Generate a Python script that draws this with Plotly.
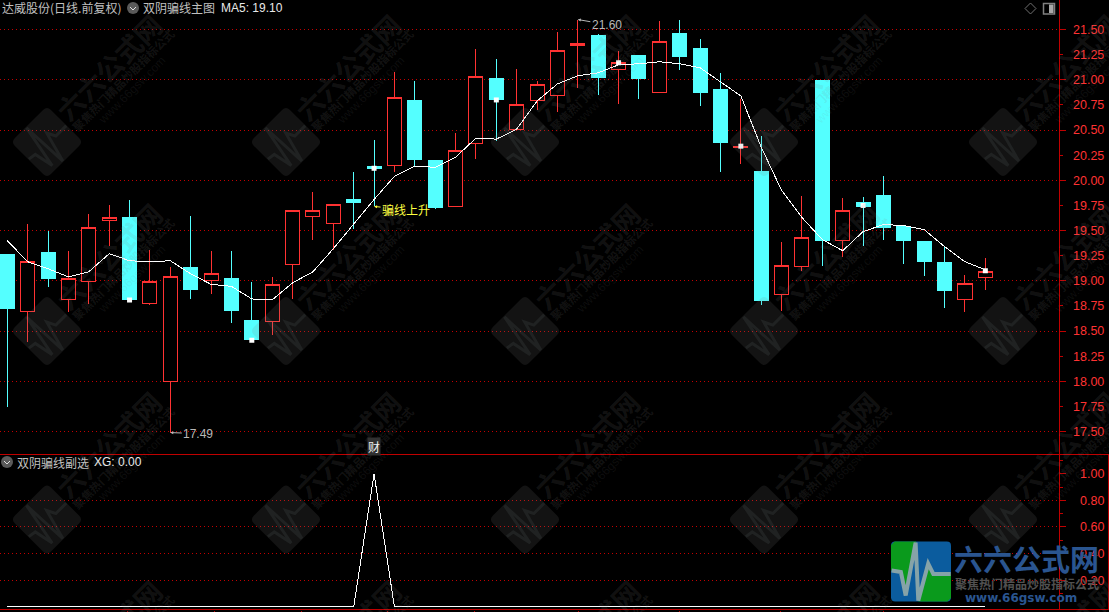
import math
import plotly.graph_objects as go

# ---------- data ----------
index = list(range(49))
open_ = [19.26,18.69,19.28,18.81,18.99,19.60,19.63,18.77,18.00,19.13,19.00,19.02,18.61,18.60,19.16,19.64,19.57,19.81,20.14,
         20.15,20.79,20.20,19.74,20.37,21.01,20.51,20.79,20.84,21.34,21.44,21.10,21.24,20.87,21.465,21.31,20.90,20.33,20.09,
         18.86,19.14,20.99,19.40,19.78,19.85,19.54,19.39,19.18,18.81,19.03]
high = [19.26,19.57,19.50,19.30,19.67,19.75,19.80,19.31,19.14,19.65,19.30,19.30,18.99,19.04,19.70,19.88,19.76,20.08,20.40,
        21.08,20.99,20.20,20.47,21.31,21.21,21.11,20.99,21.475,21.60,21.455,21.29,21.24,21.585,21.595,21.405,21.07,20.81,20.44,
        19.39,19.84,20.99,19.82,19.83,20.04,19.54,19.39,19.34,19.06,19.23]
low = [17.74,18.39,18.94,18.69,18.77,19.35,18.79,18.76,17.49,18.82,18.87,18.58,18.41,18.46,18.82,19.41,19.31,19.52,19.74,
       20.08,20.13,19.71,19.73,20.21,20.39,20.51,20.70,20.68,20.92,20.85,20.76,20.81,20.87,21.10,20.74,20.08,20.16,18.76,
       18.70,19.10,19.15,19.24,19.35,19.41,19.17,19.045,18.73,18.69,18.91]
close = [18.72,19.19,19.02,19.02,19.53,19.63,18.81,18.99,19.04,18.91,19.07,18.70,18.42,18.96,19.70,19.70,19.76,19.78,20.12,
         20.825,20.21,19.73,20.30,21.03,20.80,20.75,20.95,21.29,21.36,21.02,21.17,21.01,21.38,21.23,20.87,20.38,20.34,18.80,
         19.15,19.43,19.40,19.70,19.74,19.53,19.40,19.19,18.90,18.97,19.09]
ma5 = [19.40,19.19,19.12,19.04,19.09,19.27,19.20,19.19,19.20,19.07,18.965,18.945,18.82,18.81,18.98,19.09,19.32,19.57,19.81,
       20.04,20.14,20.13,20.23,20.42,20.41,20.51,20.79,20.96,21.04,21.07,21.15,21.16,21.18,21.16,21.12,20.98,20.84,20.33,
       19.90,19.63,19.41,19.30,19.49,19.56,19.55,19.51,19.34,19.19,19.11]
marker_index = [6,12,18,24,30,36,42,48]
marker_value = [18.81,18.41,20.12,20.80,21.17,20.34,19.75,19.10]
xg = [0]*18 + [1] + [0]*30
price_ticks = [17.5,17.75,18.0,18.25,18.5,18.75,19.0,19.25,19.5,19.75,20.0,20.25,20.5,20.75,21.0,21.25,21.5]
price_grid = [17.5,18.0,18.5,19.0,19.5,20.0,20.5,21.0,21.5]
xg_ticks = [0.2,0.4,0.6,0.8,1.0]
xg_grid = [0.2,0.4,0.6,0.8]
x_ticks = [5.92,10.19,14.46,18.64,22.95,28.01,32.97,37.97,42.98]

# ---------- palette / page helpers ----------
W, H = 1109, 612
RED = "#ff3232"; CYAN = "#54ffff"; AXIS = "#c00000"; GRID = "#c40000"
WM = "rgba(128,128,128,0.15)"; WM2 = "rgba(150,170,170,0.10)"
px = lambda x: x / W
py = lambda y: 1 - y / H

def poly(points, close_path=False):
    d = "M" + " L".join(f"{px(x):.5f},{py(y):.5f}" for x, y in points)
    return d + (" Z" if close_path else "")

def rounded_square(cx, cy, half, r, angle=0):
    c, s = math.cos(angle), math.sin(angle)
    def T(u, v):
        x = u*half; y = v*half
        return f"{px(cx + x*c + y*s):.5f},{py(cy - x*s + y*c):.5f}"
    k = 1 - r
    return (f"M{T(-k,-1)} L{T(k,-1)} Q{T(1,-1)} {T(1,-k)} L{T(1,k)} Q{T(1,1)} {T(k,1)} "
            f"L{T(-k,1)} Q{T(-1,1)} {T(-1,k)} L{T(-1,-k)} Q{T(-1,-1)} {T(-k,-1)} Z")

pulse = [(-0.98,-0.03),(-0.67,0.02),(-0.51,0.80),(-0.18,-0.96),(-0.09,0.97),(0.24,-0.26),(0.41,0.08),(0.99,0.08)]

shapes = []
annos = []

def T_text(x, y, text, size=12, color="#c0c0c0", family="Noto Sans CJK SC", anchor="left", angle=0):
    annos.append(dict(xref="paper", yref="paper", x=px(x), y=py(y), text=text, showarrow=False,
                      xanchor=anchor, yanchor="middle", textangle=angle, borderpad=0, borderwidth=0,
                      font=dict(size=size, color=color, family=family)))

# watermark grid
for cy in (142, 331, 519.5, 708):
    for cx in (47, 286, 525, 764, 1003):
        a = math.pi/4
        shapes.append(dict(type="path", xref="paper", yref="paper", layer="above", line_width=0, fillcolor=WM,
                           path=rounded_square(cx, cy, 25.5, 0.22, a)))
        pts = []
        for u, v in pulse:
            x, y = u*25.5, v*25.5
            pts.append((cx + x*math.cos(a) + y*math.sin(a), cy - x*math.sin(a) + y*math.cos(a)))
        shapes.append(dict(type="path", xref="paper", yref="paper", layer="above", fillcolor="rgba(0,0,0,0)",
                           line=dict(color=WM2, width=3), path=poly(pts)))
        T_text(cx+61, cy-75, "<b>六六公式网</b>", 27, WM, anchor="center", angle=-45)
        T_text(cx+76, cy-62, "<b>聚焦热门精品炒股指标公式</b>", 11.5, WM, anchor="center", angle=-45)
        T_text(cx+85, cy-52, "www.66gsw.com", 12, "rgba(128,128,128,0.11)", "Liberation Sans", anchor="center", angle=-45)

# panel frames
for x0, y0, x1, y1 in [(0,454.5,1109,454.5),(0,609.5,1109,609.5),(1108.5,454.5,1108.5,609.5)]:
    shapes.append(dict(type="line", xref="paper", yref="paper", x0=px(x0), y0=py(y0), x1=px(x1), y1=py(y1),
                       line=dict(color=AXIS, width=1)))

# collapse icons
for cx, cy in ((133,8),(7,462)):
    shapes.append(dict(type="circle", xref="paper", yref="paper", x0=px(cx-6), x1=px(cx+6), y0=py(cy+6), y1=py(cy-6),
                       fillcolor="#5a5a5a", line_width=0))
    shapes.append(dict(type="path", xref="paper", yref="paper", fillcolor="rgba(0,0,0,0)",
                       line=dict(color="#e0e0e0", width=1), path=poly([(cx-3,cy-1),(cx,cy+2),(cx+3,cy-1)])))
# top-right icons
shapes.append(dict(type="path", xref="paper", yref="paper", fillcolor="rgba(0,0,0,0)", line=dict(color="#707070", width=1),
                   path=poly([(1030.5,3),(1036,8.5),(1030.5,14),(1025,8.5)], True)))
shapes.append(dict(type="rect", xref="paper", yref="paper", x0=px(1043.5), x1=px(1054.5), y0=py(14), y1=py(3.5),
                   line=dict(color="#808080", width=1.5), fillcolor="rgba(0,0,0,0)"))
shapes.append(dict(type="rect", xref="paper", yref="paper", x0=px(1049), x1=px(1053.5), y0=py(13), y1=py(4.5),
                   line_width=0, fillcolor="#a8a8a8"))

# corner logo
LX, LY, LH = 921, 571.5, 30
L = lambda u, v: (LX + u*LH, LY + v*LH)
shapes.append(dict(type="path", xref="paper", yref="paper", line_width=0, fillcolor="#0b5c9e",
                   path=rounded_square(LX, LY, LH, 0.14)))
shapes.append(dict(type="path", xref="paper", yref="paper", line_width=0, fillcolor="#0a9a1c",
                   path=poly([L(-1,-0.03),L(-0.67,0.02),L(-0.51,0.8),L(-0.16,-1),L(-0.88,-1),L(-1,-0.88)], True)))
shapes.append(dict(type="path", xref="paper", yref="paper", line_width=0, fillcolor="#0a9a1c",
                   path=poly([L(-0.09,1),L(0.24,-0.26),L(0.41,0.08),L(1,0.08),L(1,0.88),L(0.88,1)], True)))
shapes.append(dict(type="path", xref="paper", yref="paper", fillcolor="rgba(0,0,0,0)",
                   line=dict(color="#86a3a8", width=4), path=poly([L(*p) for p in pulse])))
T_text(954, 558, "<b>六六公式网</b>", 29, "#2a5590")
T_text(955, 583, "<b>聚焦热门精品炒股指标公式</b>", 12, "#505050")
T_text(965, 598, "<b>www.66gsw.com</b>", 12, "#2a5590", "DejaVu Sans")

# header text
T_text(2, 8, "达威股份(日线.前复权)", 12, "#c0c0c0")
T_text(143, 8, "双阴骗线主图", 12, "#c0c0c0")
T_text(221, 8, "MA5: 19.10", 12, "#e8e8e8", "Liberation Sans")
T_text(17, 462, "双阴骗线副选", 12, "#c0c0c0")
T_text(94, 462, "XG: 0.00", 12, "#e8e8e8", "Liberation Sans")

# value call-outs
for xv, yv, text, ax, ay, col, fam in [(8, 17.49, "17.49", 28, 1, "#b8b8b8", "Liberation Sans"),
                                       (28, 21.60, "21.60", 29, 5, "#b8b8b8", "Liberation Sans"),
                                       (18, 19.74, "骗线上升", 32, 3, "#ffff40", "Noto Sans CJK SC")]:
    annos.append(dict(xref="x", yref="y", x=xv, y=yv, text=text, showarrow=True, arrowhead=2, arrowsize=0.6,
                      arrowwidth=1, arrowcolor=col, ax=ax, ay=ay, axref="pixel", ayref="pixel",
                      font=dict(size=12, color=col, family=fam)))
annos.append(dict(xref="x", yref="y", x=18, y=17.35, text="财", showarrow=False, bgcolor="#303030", borderpad=0,
                  font=dict(size=12, color="#f0f0f0", family="Noto Sans CJK SC")))

# ---------- traces ----------
fig = go.Figure()
fig.add_trace(go.Candlestick(x=index, open=open_, high=high, low=low, close=close, xaxis="x", yaxis="y",
                             whiskerwidth=0, hoverinfo="skip",
                             increasing=dict(line=dict(color=RED, width=1), fillcolor="#000000"),
                             decreasing=dict(line=dict(color=CYAN, width=1), fillcolor=CYAN)))
fig.add_trace(go.Scatter(x=index, y=ma5, mode="lines", xaxis="x", yaxis="y", line=dict(color="#ffffff", width=1), hoverinfo="skip"))
fig.add_trace(go.Scatter(x=marker_index, y=marker_value, mode="markers", xaxis="x", yaxis="y",
                         marker=dict(symbol="square", size=5, color="#ffffff"), hoverinfo="skip"))
fig.add_trace(go.Scatter(x=index, y=xg, mode="lines", xaxis="x2", yaxis="y2", line=dict(color="#ffffff", width=1), hoverinfo="skip"))
# empty companions so the label axes exist
fig.add_trace(go.Scatter(x=[None], y=[None], xaxis="x", yaxis="y3", hoverinfo="skip"))
fig.add_trace(go.Scatter(x=[None], y=[None], xaxis="x2", yaxis="y4", hoverinfo="skip"))

xr = [-0.358, 51.59]
dom_x = [0, 1058.5/W]
price_range = [17.272, 21.7945]
xg_range = [-0.0203, 1.145]
tickfont = dict(size=12.5, color=RED, family="Liberation Sans")
common = dict(side="right", tickmode="array", zeroline=False, tickcolor=AXIS)
fig.update_layout(
    width=W, height=H, autosize=False, showlegend=False, paper_bgcolor="#000000", plot_bgcolor="#000000",
    margin=dict(l=0, r=0, t=0, b=0), boxgap=0.31, boxgroupgap=0, shapes=shapes, annotations=annos,
    xaxis=dict(domain=dom_x, range=xr, visible=False, rangeslider=dict(visible=False), anchor="y"),
    xaxis2=dict(domain=dom_x, range=xr, anchor="y2", tickmode="array", tickvals=x_ticks, showticklabels=False,
                ticks="outside", ticklen=3, tickcolor=AXIS, showgrid=False, zeroline=False, showline=False),
    # base axes carry grid and long ticks
    yaxis=dict(domain=[1-454.5/H, 1], range=price_range, anchor="x", tickvals=price_grid, showticklabels=False,
               ticks="outside", ticklen=6, showgrid=True, gridcolor=GRID, griddash="1px,3px", gridwidth=1,
               showline=True, linecolor=AXIS, linewidth=1, **common),
    yaxis2=dict(domain=[1-609.5/H, 1-454.5/H], range=xg_range, anchor="x2", tickvals=xg_grid, showticklabels=False,
                ticks="outside", ticklen=6, showgrid=True, gridcolor=GRID, griddash="1px,3px", gridwidth=1,
                showline=True, linecolor=AXIS, linewidth=1, **common),
    # overlay axes carry the labels
    yaxis3=dict(domain=[1-454.5/H, 1], range=price_range, anchor="x", overlaying="y", tickvals=price_ticks,
                ticktext=[f"{v:.2f}" for v in price_ticks], ticks="outside", ticklen=3, tickfont=tickfont,
                showgrid=False, showline=False, ticklabelstandoff=8, **common),
    yaxis4=dict(domain=[1-609.5/H, 1-454.5/H], range=xg_range, anchor="x2", overlaying="y2", tickvals=xg_ticks,
                ticktext=[f"{v:.2f}" for v in xg_ticks], ticks="outside", ticklen=6, tickfont=tickfont,
                showgrid=False, showline=False, ticklabelstandoff=12,
                minor=dict(tickmode="array", tickvals=[0.1,0.3,0.5,0.7,0.9,1.1], ticks="outside", ticklen=3, tickcolor=AXIS),
                **common),
)
post = ("document.body.style.margin='0';document.body.style.background='#000';"
        "document.documentElement.style.overflow='hidden';"
        "document.querySelectorAll('g.boxes path, .scatterlayer path.js-line').forEach(function(p){p.style.shapeRendering='crispEdges';});")
fig.write_html("out.html", post_script=post, config={"displayModeBar": False})
